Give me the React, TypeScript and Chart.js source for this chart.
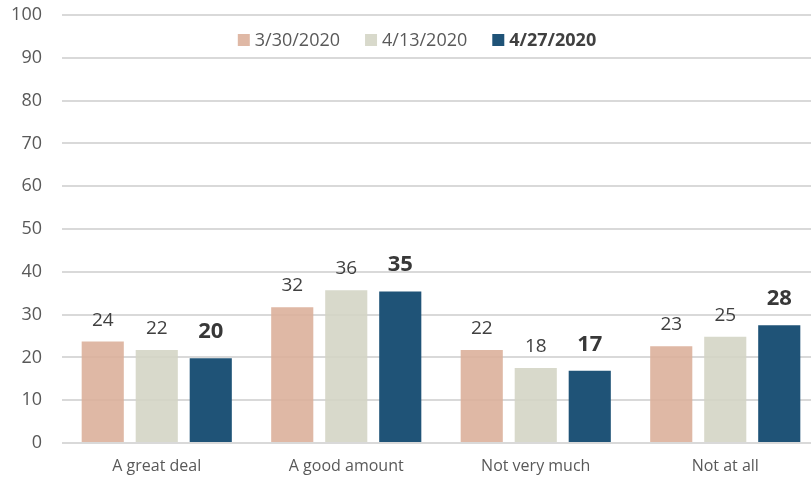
import React, { useEffect, useRef } from "react";
import { Chart, registerables } from "chart.js";

Chart.register(...registerables);

const categories = ["A great deal", "A good amount", "Not very much", "Not at all"];
const seriesNames = ["3/30/2020", "4/13/2020", "4/27/2020"];
const s1 = [23.7, 31.7, 21.7, 22.6];
const s2 = [21.7, 35.7, 17.5, 24.8];
const s3 = [19.8, 35.4, 16.9, 27.5];
const yTicks = [0, 10, 20, 30, 40, 50, 60, 70, 80, 90, 100];

const FONT = '"Open Sans", "DejaVu Sans", sans-serif';
const swatch = ["#dfb8a5", "#d8d9cb", "#1f5377"];
const fills = ["rgba(219,174,153,0.88)", "rgba(211,212,196,0.88)", "#1f5377"];

const labelsPlugin = {
  id: "valueLabels",
  afterDatasetsDraw(chart: any) {
    const ctx = chart.ctx;
    ctx.save();
    ctx.textAlign = "center";
    ctx.textBaseline = "alphabetic";
    chart.data.datasets.forEach((ds: any, di: number) => {
      const meta = chart.getDatasetMeta(di);
      const bold = di === 2;
      ctx.font = bold ? `bold 22px ${FONT}` : `19px ${FONT}`;
      ctx.fillStyle = bold ? "#383838" : "#404040";
      meta.data.forEach((el: any, i: number) => {
        const v = Math.round(ds.data[i]);
        ctx.fillText(String(v), el.x, el.y - (bold ? 20 : 16));
      });
    });
    ctx.restore();
  },
};

const legendPlugin = {
  id: "customLegend",
  afterDraw(chart: any) {
    const ctx = chart.ctx;
    ctx.save();
    const box = 12;
    const gapText = 5;
    const gapItem = 25;
    const fonts = seriesNames.map((_, i) => (i === 2 ? `bold 18px ${FONT}` : `18px ${FONT}`));
    const widths = seriesNames.map((n, i) => {
      ctx.font = fonts[i];
      return ctx.measureText(n).width;
    });
    const total =
      widths.reduce((a, w) => a + box + gapText + w, 0) + gapItem * (seriesNames.length - 1);
    let x = chart.width / 2 - total / 2;
    const cy = 40;
    seriesNames.forEach((n, i) => {
      ctx.fillStyle = swatch[i];
      ctx.fillRect(x, cy - box / 2, box, box);
      x += box + gapText;
      ctx.font = fonts[i];
      ctx.fillStyle = i === 2 ? "#404040" : "#595959";
      ctx.textAlign = "left";
      ctx.textBaseline = "middle";
      ctx.fillText(n, x, cy + 1);
      x += widths[i] + gapItem;
    });
    ctx.restore();
  },
};

export default function App() {
  const ref = useRef<HTMLCanvasElement>(null);
  useEffect(() => {
    if (!ref.current) return;
    const chart = new Chart(ref.current, {
      type: "bar",
      data: {
        labels: categories,
        datasets: [s1, s2, s3].map((d, i) => ({
          label: seriesNames[i],
          data: d,
          backgroundColor: fills[i],
          borderWidth: 0,
          categoryPercentage: 0.855,
          barPercentage: 0.78,
        })),
      },
      options: {
        responsive: false,
        animation: false,
        devicePixelRatio: 1,
        layout: { padding: { top: 15, right: 14, left: 0, bottom: 0 } },
        plugins: {
          legend: { display: false },
          tooltip: { enabled: false },
          title: { display: false },
        },
        scales: {
          x: {
            grid: { display: false },
            border: { display: false },
            ticks: {
              color: "#595959",
              font: { family: FONT, size: 16 },
              padding: 6,
            },
            afterFit(scale: any) {
              scale.height = 35;
              scale.paddingLeft = 0;
              scale.paddingRight = 0;
              scale.paddingTop = 0;
              scale.paddingBottom = 0;
            },
          },
          y: {
            min: 0,
            max: 100,
            afterBuildTicks(scale: any) {
              scale.ticks = yTicks.map((v) => ({ value: v }));
            },
            grid: { color: "#d9d9d9", lineWidth: 2, drawTicks: false },
            border: { display: false },
            ticks: {
              color: "#595959",
              font: { family: FONT, size: 18 },
              padding: 20,
            },
            afterFit(scale: any) {
              scale.width = 62;
              scale.paddingTop = 0;
              scale.paddingBottom = 0;
              scale.paddingLeft = 0;
              scale.paddingRight = 0;
            },
          },
        },
      },
      plugins: [labelsPlugin, legendPlugin],
    });
    return () => chart.destroy();
  }, []);
  return (
    <div
      style={{
        position: "fixed",
        left: 0,
        top: 0,
        width: 811,
        height: 478,
        overflow: "hidden",
        background: "#fff",
      }}
    >
      <canvas ref={ref} width={834} height={478} style={{ display: "block" }} />
    </div>
  );
}
